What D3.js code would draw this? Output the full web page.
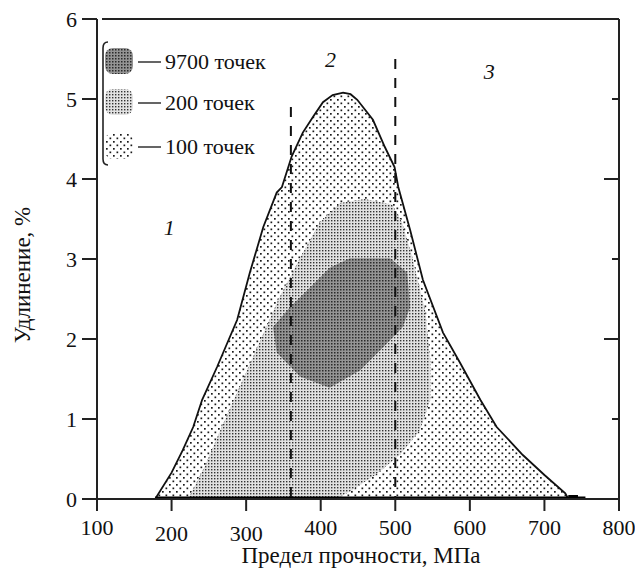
<!DOCTYPE html>
<html><head><meta charset="utf-8">
<script src="https://cdn.jsdelivr.net/npm/d3@7"></script>
<style>
body{margin:0;background:#fff;}
svg{display:block;font-family:"Liberation Serif","Times New Roman",serif;}
</style></head>
<body><svg id="c" width="635" height="572"></svg>
<script>
// ---- data ----
const xTicks = [100,200,300,400,500,600,700,800];
const yTicks = [0,1,2,3,4,5,6];
const legendLabels = ["9700 точек","200 точек","100 точек"];
const zoneLabels = ["1","2","3"];
const zoneLabelPos = [[197,3.4],[413,5.5],[626,5.35]];
const zoneBounds = [360,500];
const zoneBoundTop = [4.9,5.5];
// region with 100 points (outer envelope) [strength MPa, elongation %]
const envelope100 = [[178,0],[200,0.33],[215,0.61],[229,0.9],[241,1.24],[261,1.65],[288,2.24],[305,2.83],[323,3.4],[341,3.83],[348,3.9],[361,4.28],[376,4.58],[390,4.78],[403,4.96],[416,5.05],[430,5.08],[440,5.06],[449,4.99],[470,4.74],[486,4.4],[499,4.15],[504,3.9],[520,3.36],[537,2.74],[564,2.08],[587,1.7],[614,1.24],[636,0.9],[671,0.55],[700,0.3],[728,0.07],[732,0]];
// region with 200 points
const region200 = [[426,3.7],[459,3.75],[496,3.68],[509,3.46],[522,3.05],[540,2.36],[547,1.74],[547,1.24],[533,0.86],[506,0.55],[473,0.3],[439,0.09],[419,0],[222,0],[245,0.42],[268,0.92],[292,1.42],[316,1.92],[343,2.49],[372,3.01],[399,3.46]];
// region with 9700 points
const region9700 = [[412,2.89],[439,3.01],[493,3.01],[516,2.83],[520,2.4],[510,2.15],[484,1.9],[453,1.61],[412,1.39],[372,1.53],[341,1.83],[336,2.15],[359,2.4],[382,2.61]];
const tailSeg = [732,755];

// ---- chart ----
const svg = d3.select("#c");
const x = d3.scaleLinear().domain([100,800]).range([97,619]);
const y = d3.scaleLinear().domain([0,6]).range([499,19]);

const defs = svg.append("defs");
const p100 = defs.append("pattern").attr("id","p100").attr("patternUnits","userSpaceOnUse").attr("width",7).attr("height",7);
p100.append("rect").attr("width",7).attr("height",7).attr("fill","#fff");
p100.append("rect").attr("x",1).attr("y",1).attr("width",1.7).attr("height",1.7).attr("fill","#1a1a1a");
p100.append("rect").attr("x",4.5).attr("y",4.5).attr("width",1.7).attr("height",1.7).attr("fill","#1a1a1a");
const p200 = defs.append("pattern").attr("id","p200").attr("patternUnits","userSpaceOnUse").attr("width",3).attr("height",3);
p200.append("rect").attr("width",3).attr("height",3).attr("fill","#e2e2e2");
p200.append("rect").attr("x",1).attr("y",1).attr("width",1.4).attr("height",1.4).attr("fill","#333");
const p9700 = defs.append("pattern").attr("id","p9700").attr("patternUnits","userSpaceOnUse").attr("width",3).attr("height",3);
p9700.append("rect").attr("width",3).attr("height",3).attr("fill","#949494");
p9700.append("rect").attr("x",1).attr("y",1).attr("width",1.5).attr("height",1.5).attr("fill","#2a2a2a");

const line = d3.line().x(d=>x(d[0])).y(d=>y(d[1]));
const area = d3.line().x(d=>x(d[0])).y(d=>y(d[1])).curve(d3.curveLinearClosed);

svg.append("path").attr("d", line(envelope100)+"Z").attr("fill","url(#p100)").attr("stroke","none");
svg.append("path").attr("d", area(region200)).attr("fill","url(#p200)").attr("stroke","none");
svg.append("path").attr("d", area(region9700)).attr("fill","url(#p9700)").attr("stroke","none");
svg.append("path").attr("d", line(envelope100)).attr("fill","none").attr("stroke","#111").attr("stroke-width",1.8);

// thick base & tail
svg.append("line").attr("x1",x(envelope100[0][0])).attr("x2",x(tailSeg[1])).attr("y1",y(0)-1).attr("y2",y(0)-1).attr("stroke","#000").attr("stroke-width",3);
svg.append("rect").attr("x",x(tailSeg[0])).attr("y",y(0)-4).attr("width",x(745)-x(tailSeg[0])).attr("height",4).attr("fill","#000");

// dashed zone bounds
zoneBounds.forEach((b,i)=>{
  svg.append("line").attr("x1",x(b)).attr("x2",x(b)).attr("y1",y(zoneBoundTop[i])).attr("y2",y(0))
    .attr("stroke","#111").attr("stroke-width",2).attr("stroke-dasharray","10,9");
});

// axes frame
const g = svg.append("g").attr("stroke","#222").attr("stroke-width",2).attr("fill","none");
g.append("line").attr("x1",97).attr("x2",97).attr("y1",y(6)).attr("y2",511);
g.append("line").attr("x1",82).attr("x2",619).attr("y1",y(0)).attr("y2",y(0));
g.append("line").attr("x1",619).attr("x2",619).attr("y1",y(6)).attr("y2",511);
g.append("line").attr("x1",102).attr("x2",619).attr("y1",y(6)).attr("y2",y(6));
yTicks.forEach(t=>{
  g.append("line").attr("x1",82).attr("x2",97).attr("y1",y(t)).attr("y2",y(t));
  if(t>0 && t<6){
    const L = (t%2===0)?15:7;
    g.append("line").attr("x1",619-L).attr("x2",619).attr("y1",y(t)).attr("y2",y(t));
  }
});
xTicks.forEach(t=>{
  g.append("line").attr("x1",x(t)).attr("x2",x(t)).attr("y1",y(0)).attr("y2",511);
});

// tick labels
const tickDy = {200:6,300:6};
xTicks.forEach(t=>{
  svg.append("text").attr("x",x(t)).attr("y",535+(tickDy[t]||0)).attr("text-anchor","middle")
    .attr("font-size",22).attr("fill","#111").text(t);
});
yTicks.forEach(t=>{
  svg.append("text").attr("x",77).attr("y",y(t)).attr("dy","0.35em").attr("text-anchor","end")
    .attr("font-size",22).attr("fill","#111").text(t);
});

// axis titles
svg.append("text").attr("x",361).attr("y",563).attr("text-anchor","middle").attr("font-size",23).attr("fill","#111").text("Предел прочности, МПа");
svg.append("text").attr("transform","translate(30,275) rotate(-90)").attr("text-anchor","middle").attr("font-size",23).attr("fill","#111").text("Удлинение, %");

// zone labels
zoneLabels.forEach((t,i)=>{
  svg.append("text").attr("x",x(zoneLabelPos[i][0])).attr("y",y(zoneLabelPos[i][1])).attr("dy","0.35em")
    .attr("text-anchor","middle").attr("font-size",22).attr("font-style","italic").attr("fill","#111").text(t);
});

// legend
svg.append("path").attr("d","M108,42 Q103,42 103,48 L103,159 Q103,165 108,165").attr("fill","none").attr("stroke","#222").attr("stroke-width",1.6);
const fills = ["url(#p9700)","url(#p200)","url(#p100)"];
const legY = [61,102,146];
legendLabels.forEach((t,i)=>{
  svg.append("rect").attr("x",105).attr("y",legY[i]-13).attr("width",28).attr("height",26).attr("rx",8).attr("fill",fills[i]);
  svg.append("line").attr("x1",138).attr("x2",161).attr("y1",legY[i]+1).attr("y2",legY[i]+1).attr("stroke","#111").attr("stroke-width",1.3);
  svg.append("text").attr("x",165).attr("y",legY[i]).attr("dy","0.35em").attr("font-size",22).attr("fill","#111").text(t);
});
</script></body></html>
